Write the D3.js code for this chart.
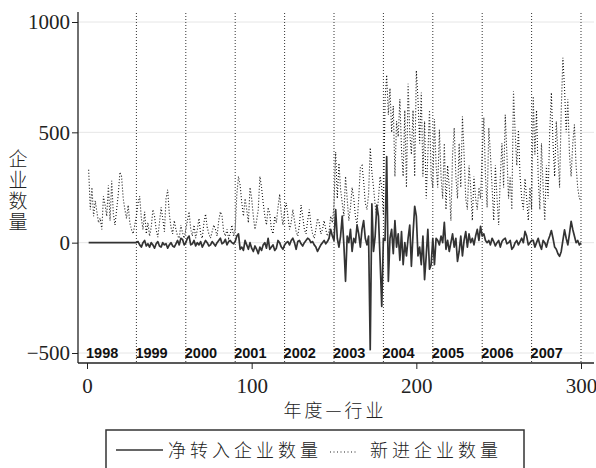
<!DOCTYPE html>
<html>
<head>
<meta charset="utf-8">
<script src="https://cdn.jsdelivr.net/npm/d3@7"></script>
<style>
  body { margin: 0; background: #fff; }
  svg { display: block; }
  .tick text { font-family: "Liberation Serif", serif; font-size: 21px; fill: #222; }
  .cjk { font-family: "Noto Sans CJK SC", sans-serif; font-weight: 300; fill: #222; }
</style>
</head>
<body>
<svg></svg>
<script>
const width = 596;
const height = 468;

// years of the panel, one block of 30 industries each
const years = ['1998', '1999', '2000', '2001', '2002', '2003', '2004', '2005', '2006', '2007'];
const yTicks = [-500, 0, 500, 1000];
const xTicks = [0, 100, 200, 300];

// 新进企业数量 (dotted), 30 values per year
const newFirms = [
  330, 150, 250, 120, 190, 140, 90, 110, 60, 210, 170, 120, 260, 100, 280, 130, 80, 150, 220, 320, 300, 200, 150, 110, 170, 90, 60, 40, 80, 120,
  180, 210, 110, 60, 140, 40, 90, 30, 70, 150, 120, 60, 25, 90, 160, 110, 50, 200, 240, 130, 70, 40, 100, 60, 30, 20, 80, 45, 20, 60,
  100, 140, 60, 30, 80, 20, 60, 110, 40, 20, 90, 130, 70, 40, 20, 50, 80, 60, 30, 100, 140, 120, 50, 30, 60, 20, 40, 80, 30, 60,
  220, 300, 260, 180, 120, 200, 150, 90, 250, 200, 120, 60, 100, 150, 300, 250, 180, 120, 80, 160, 130, 60, 40, 120, 90, 160, 220, 130, 80, 150,
  180, 120, 60, 90, 150, 100, 50, 30, 80, 170, 120, 60, 40, 100, 150, 80, 40, 20, 60, 110, 90, 40, 60, 100, 60, 30, 50, 120, 90, 170,
  410, 200, 360, 240, 180, 120, 300, 200, 100, 160, 250, 200, 120, 80, 200, 340, 350, 280, 180, 150, 220, 430, 320, 250, 170, 120, 200, 300, 250, 130,
  650, 760, 580, 700, 500, 620, 300, 550, 480, 650, 420, 300, 600, 250, 720, 500, 400, 600, 300, 780, 650, 450, 680, 300, 550, 200, 400, 600, 300, 250,
  560, 350, 250, 512, 300, 200, 450, 150, 350, 250, 100, 400, 520, 300, 200, 450, 250, 572, 400, 200, 150, 350, 250, 100, 300, 200, 150, 250, 200, 400,
  567, 300, 160, 520, 400, 250, 100, 350, 200, 80, 300, 450, 250, 580, 400, 200, 300, 150, 686, 500, 350, 510, 300, 200, 150, 290, 200, 100, 250, 150,
  663, 400, 600, 300, 150, 450, 250, 100, 350, 200, 500, 680, 450, 300, 550, 400, 250, 600, 838, 700, 500, 650, 400, 300, 450, 535, 350, 250, 200, 195
];

// 净转入企业数量 (solid), 30 values per year
const netInflow = [
  0, 0, 0, 0, 0, 0, 0, 0, 0, 0, 0, 0, 0, 0, 0, 0, 0, 0, 0, 0, 0, 0, 0, 0, 0, 0, 0, 0, 0, 0,
  5, -10, -20, 0, 10, -15, -5, -20, 0, -10, -25, -5, 5, -15, -20, 0, -10, -5, -25, -10, 0, -15, -20, -5, 10, -10, 20, 15, -10, 0,
  20, 30, -10, -5, 10, -15, 0, -10, 5, -20, -5, 10, 0, -15, -10, 5, -5, -15, 0, 10, 20, -5, 0, 15, -10, 5, 10, 0, -5, 5,
  30, 40, -30, -20, -35, 10, -10, -30, 0, -25, -40, -15, -30, -50, -20, -35, -10, 0, -25, 20, -30, -20, -10, -35, -25, 10, 0, -20, -30, -10,
  0, 5, -10, 10, 20, 0, -30, 5, 10, -5, -15, 0, 10, 20, 15, 0, 5, -10, -20, -40, -25, -10, 0, 10, -5, 5, 20, 60, 30, 10,
  150, 20, -20, 30, 120, -10, -175, 30, 0, 60, -40, 20, 0, 80, 40, -20, 60, 100, 20, -10, 30, -485, 176, -40, 30, 170, 120, -80, -289, 20,
  10, 390, -175, 20, 60, -50, 100, -20, 40, -80, 50, -100, 0, -60, 20, 80, -107, 40, 165, 120, -60, -20, -100, 30, -168, -60, 60, -120, -100, 20,
  -100, 20, 10, -10, 30, 0, 92, -30, 10, -40, 0, 40, -20, 20, -85, -40, 30, -60, 10, 50, -20, 40, 0, 20, -10, 30, 60, 10, 74, 30,
  40, 10, 0, 10, -10, 20, 5, -15, 0, 10, -20, 5, 15, 20, -5, 0, 10, -30, -20, 0, 10, -10, 5, 20, 0, 51, 30, -10, 0, 10,
  10, -20, 0, 20, -10, -30, 10, 0, -20, 10, 30, 55, 20, -20, -30, -50, -62, -40, 10, 58, 20, -10, 40, 97, 60, 30, 0, 10, -10, 0
];

const svg = d3.select('svg')
  .attr('width', width)
  .attr('height', height);

const xScale = d3.scaleLinear().domain([0, 300]).range([87, 581]);
const yScale = d3.scaleLinear().domain([-500, 1000]).range([353, 22]);

const axisX = 78;
const axisY = 363;

// horizontal grid
svg.append('g')
  .selectAll('line')
  .data(yTicks)
  .enter()
  .append('line')
  .attr('x1', axisX)
  .attr('x2', 594)
  .attr('y1', d => yScale(d))
  .attr('y2', d => yScale(d))
  .attr('stroke', '#e6e6e6')
  .attr('stroke-width', 1);

// year separators
svg.append('g')
  .selectAll('line')
  .data(years.map((y, i) => (i + 1) * 30))
  .enter()
  .append('line')
  .attr('x1', d => xScale(d))
  .attr('x2', d => xScale(d))
  .attr('y1', 13)
  .attr('y2', axisY)
  .attr('stroke', '#333')
  .attr('stroke-width', 1)
  .attr('stroke-dasharray', '1,2');

const idx = d3.range(1, newFirms.length + 1);

const line = (vals) => d3.line()
  .x((d, i) => xScale(idx[i]))
  .y(d => yScale(d))(vals);

svg.append('path')
  .attr('d', line(newFirms))
  .attr('fill', 'none')
  .attr('stroke', '#111')
  .attr('stroke-width', 1.1)
  .attr('stroke-dasharray', '1,2');

svg.append('path')
  .attr('d', line(netInflow))
  .attr('fill', 'none')
  .attr('stroke', '#333')
  .attr('stroke-width', 1.7)
  .attr('stroke-linejoin', 'round');

// year labels along the bottom
svg.append('g')
  .selectAll('text')
  .data(years)
  .enter()
  .append('text')
  .attr('x', (d, i) => xScale(i * 30) - 1)
  .attr('y', 358)
  .attr('font-family', '"Liberation Sans", Arial, sans-serif')
  .attr('font-size', 14.5)
  .attr('font-weight', 'bold')
  .attr('fill', '#111')
  .text(d => d);

// axes
const yAxis = d3.axisLeft(yScale).tickValues(yTicks).tickSize(6).tickPadding(2);
const xAxis = d3.axisBottom(xScale).tickValues(xTicks).tickSize(6).tickPadding(9);

const gy = svg.append('g').attr('transform', `translate(${axisX},0)`).call(yAxis);
gy.select('.domain').remove();
gy.selectAll('.tick line').attr('stroke', '#222');
gy.selectAll('.tick text').text(d => d < 0 ? '\u2212' + Math.abs(d) : d);

const gx = svg.append('g').attr('transform', `translate(0,${axisY})`).call(xAxis);
gx.select('.domain').remove();
gx.selectAll('.tick line').attr('stroke', '#222');
gx.selectAll('.tick text').attr('font-size', 20);

svg.append('line')
  .attr('x1', axisX).attr('x2', axisX)
  .attr('y1', 12).attr('y2', axisY)
  .attr('stroke', '#222').attr('stroke-width', 1.3);
svg.append('line')
  .attr('x1', axisX).attr('x2', 594)
  .attr('y1', axisY).attr('y2', axisY)
  .attr('stroke', '#222').attr('stroke-width', 1.3);

// axis titles
svg.append('text')
  .attr('class', 'cjk')
  .attr('x', 18)
  .attr('y', 191)
  .attr('text-anchor', 'middle')
  .attr('font-size', 19)
  .attr('letter-spacing', 2)
  .style('writing-mode', 'vertical-rl')
  .text('企业数量');

svg.append('text')
  .attr('class', 'cjk')
  .attr('x', 335)
  .attr('y', 417)
  .attr('text-anchor', 'middle')
  .attr('font-size', 18)
  .attr('letter-spacing', 3)
  .text('年度—行业');

// legend
svg.append('rect')
  .attr('x', 106).attr('y', 430)
  .attr('width', 418).attr('height', 44)
  .attr('fill', 'none')
  .attr('stroke', '#333')
  .attr('stroke-width', 1.5);

svg.append('line')
  .attr('x1', 116).attr('x2', 163)
  .attr('y1', 450).attr('y2', 450)
  .attr('stroke', '#333').attr('stroke-width', 1.7);
svg.append('text')
  .attr('class', 'cjk')
  .attr('x', 168).attr('y', 457)
  .attr('font-size', 18)
  .attr('letter-spacing', 4)
  .text('净转入企业数量');

svg.append('line')
  .attr('x1', 330).attr('x2', 357)
  .attr('y1', 452).attr('y2', 452)
  .attr('stroke', '#222').attr('stroke-width', 1.2)
  .attr('stroke-dasharray', '1,2.5');
svg.append('text')
  .attr('class', 'cjk')
  .attr('x', 370).attr('y', 457)
  .attr('font-size', 18)
  .attr('letter-spacing', 4)
  .text('新进企业数量');
</script>
</body>
</html>
